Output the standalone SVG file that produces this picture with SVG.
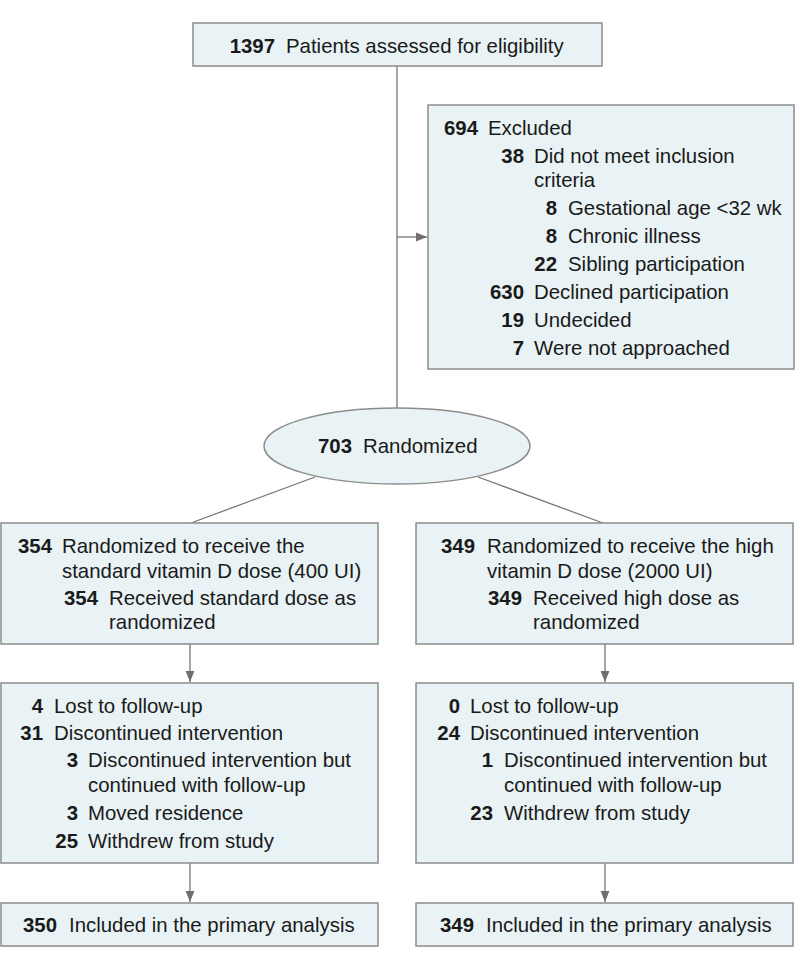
<svg xmlns="http://www.w3.org/2000/svg" width="798" height="966" viewBox="0 0 798 966">
<style>
.box{fill:#e9f2f4;stroke:#8c8c8c;stroke-width:1.5}
.t{font-family:"Liberation Sans",Arial,sans-serif;font-size:20.4px;fill:#1a1a1a}
.n{font-family:"Liberation Sans",Arial,sans-serif;font-size:20.4px;font-weight:bold;fill:#1a1a1a;text-anchor:end}
.c{fill:none;stroke:#777;stroke-width:1.3}
</style>
<defs>
<marker id="ah" viewBox="0 0 10 10" refX="10" refY="5" markerWidth="11" markerHeight="11" markerUnits="userSpaceOnUse" orient="auto">
<path d="M0,1 L10,5 L0,9 Z" fill="#6f6f6f"/>
</marker>
</defs>
<rect width="798" height="966" fill="#fff"/>
<g id="connectors">
<line class="c" x1="397" y1="66" x2="397" y2="408"/>
<line class="c" x1="397" y1="237" x2="427" y2="237" marker-end="url(#ah)"/>
<line class="c" x1="315" y1="477" x2="191" y2="523"/>
<line class="c" x1="478" y1="477" x2="603" y2="523"/>
<line class="c" x1="190" y1="644" x2="190" y2="682" marker-end="url(#ah)"/>
<line class="c" x1="605" y1="644" x2="605" y2="682" marker-end="url(#ah)"/>
<line class="c" x1="190" y1="863" x2="190" y2="902" marker-end="url(#ah)"/>
<line class="c" x1="605" y1="863" x2="605" y2="902" marker-end="url(#ah)"/>
</g>
<g id="assessed">
<rect class="box" x="193" y="23" width="409" height="43"/>
<text class="n" x="275" y="53">1397</text>
<text class="t" x="286" y="53">Patients assessed for eligibility</text>
</g>
<g id="excluded">
<rect class="box" x="428" y="105" width="366" height="264"/>
<text class="n" x="478" y="135">694</text><text class="t" x="488" y="135">Excluded</text>
<text class="n" x="524" y="163">38</text><text class="t" x="534" y="163">Did not meet inclusion</text>
<text class="t" x="534" y="187">criteria</text>
<text class="n" x="557" y="215">8</text><text class="t" x="568" y="215">Gestational age &lt;32 wk</text>
<text class="n" x="557" y="243">8</text><text class="t" x="568" y="243">Chronic illness</text>
<text class="n" x="557" y="271">22</text><text class="t" x="568" y="271">Sibling participation</text>
<text class="n" x="524" y="299">630</text><text class="t" x="534" y="299">Declined participation</text>
<text class="n" x="524" y="327">19</text><text class="t" x="534" y="327">Undecided</text>
<text class="n" x="524" y="355">7</text><text class="t" x="534" y="355">Were not approached</text>
</g>
<g id="randomized">
<ellipse class="box" cx="397" cy="446" rx="133" ry="38"/>
<text class="n" x="352" y="453">703</text>
<text class="t" x="363" y="453">Randomized</text>
</g>
<g id="standard">
<rect class="box" x="1" y="523" width="377" height="121"/>
<text class="n" x="52" y="553">354</text><text class="t" x="62" y="553">Randomized to receive the</text>
<text class="t" x="62" y="578">standard vitamin D dose (400 UI)</text>
<text class="n" x="98" y="605">354</text><text class="t" x="109" y="605">Received standard dose as</text>
<text class="t" x="109" y="629">randomized</text>
</g>
<g id="high">
<rect class="box" x="416" y="523" width="377" height="121"/>
<text class="n" x="475" y="553">349</text><text class="t" x="487" y="553">Randomized to receive the high</text>
<text class="t" x="487" y="578">vitamin D dose (2000 UI)</text>
<text class="n" x="522" y="605">349</text><text class="t" x="533" y="605">Received high dose as</text>
<text class="t" x="533" y="629">randomized</text>
</g>
<g id="standard-followup">
<rect class="box" x="1" y="683" width="377" height="180"/>
<text class="n" x="43" y="713">4</text><text class="t" x="54" y="713">Lost to follow-up</text>
<text class="n" x="43" y="740">31</text><text class="t" x="54" y="740">Discontinued intervention</text>
<text class="n" x="78" y="767">3</text><text class="t" x="88" y="767">Discontinued intervention but</text>
<text class="t" x="88" y="792">continued with follow-up</text>
<text class="n" x="78" y="820">3</text><text class="t" x="88" y="820">Moved residence</text>
<text class="n" x="78" y="848">25</text><text class="t" x="88" y="848">Withdrew from study</text>
</g>
<g id="high-followup">
<rect class="box" x="416" y="683" width="377" height="180"/>
<text class="n" x="460" y="713">0</text><text class="t" x="470" y="713">Lost to follow-up</text>
<text class="n" x="460" y="740">24</text><text class="t" x="470" y="740">Discontinued intervention</text>
<text class="n" x="493" y="767">1</text><text class="t" x="504" y="767">Discontinued intervention but</text>
<text class="t" x="504" y="792">continued with follow-up</text>
<text class="n" x="493" y="820">23</text><text class="t" x="504" y="820">Withdrew from study</text>
</g>
<g id="standard-analysis">
<rect class="box" x="1" y="903" width="377" height="43"/>
<text class="n" x="57" y="932">350</text><text class="t" x="69" y="932">Included in the primary analysis</text>
</g>
<g id="high-analysis">
<rect class="box" x="416" y="903" width="377" height="43"/>
<text class="n" x="474" y="932">349</text><text class="t" x="486" y="932">Included in the primary analysis</text>
</g>
</svg>
